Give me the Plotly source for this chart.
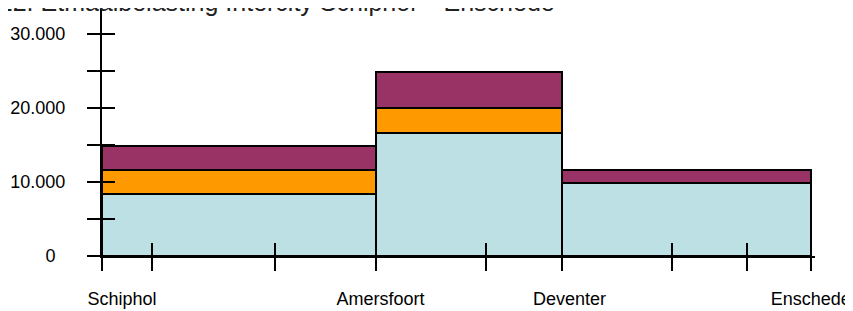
import plotly.graph_objects as go

# ---- data ----
seg_start_km = [0, 65.6, 110.3]
seg_end_km = [65.6, 110.3, 170]
base_load = [8400, 16650, 9900]
orange_load = [3250, 3300, None]
purple_load = [3250, 4950, 1700]

station_km = [0, 11.9, 41.6, 65.6, 92.2, 110.3, 136.8, 154.7, 170]
station_labels = ["Schiphol", "", "", "Amersfoort", "", "Deventer", "", "", "Enschede"]
intermediate_km = [11.9, 41.6, 92.2, 136.8, 154.7]

y_tickvals = [0, 5000, 10000, 15000, 20000, 25000, 30000]
y_ticktext = ["0", "", "10.000", "", "20.000", "", "30.000"]

title_text = "Figuur 22. Etmaalbelasting Intercity Schiphol – Enschede"

# ---- styling ----
FONT = "Liberation Sans, Arial, Helvetica, sans-serif"
NB = "\u00a0"
lead_pad = {"Schiphol": 8, "Amersfoort": 2, "Deventer": 3}
tick_text_x = [(NB * lead_pad.get(s, 0) + s) if s else "" for s in station_labels]
y_text = [t + (NB * 2 if t == "0" else "") for t in y_ticktext]

mid = [(a + b) / 2 for a, b in zip(seg_start_km, seg_end_km)]
wid = [b - a for a, b in zip(seg_start_km, seg_end_km)]

line = dict(color="black", width=2)
fig = go.Figure()
for vals, col in [(base_load, "#BCE0E3"), (orange_load, "#FF9900"), (purple_load, "#993366")]:
    fig.add_trace(go.Bar(x=mid, y=vals, width=wid, marker=dict(color=col, line=line),
                         showlegend=False, hoverinfo="skip"))
fig.add_trace(go.Scatter(x=[], y=[], xaxis="x2", yaxis="y2", showlegend=False))

# the page body has an 8px margin; figure coordinates are page coordinates minus 8
W, H = 845, 303
L, R, T, B = 94, 38, 1, 55
XR = [0, 171]
YR = [0, 33400]
common = dict(showgrid=False, zeroline=False, automargin=False, tickcolor="black", tickwidth=2,
              ticklen=13, tickmode="array")
fig.update_layout(
    width=W, height=H,
    margin=dict(l=L, r=R, t=T, b=B, autoexpand=False),
    paper_bgcolor="white", plot_bgcolor="white",
    barmode="stack", bargap=0,
    font=dict(family=FONT, size=18, color="black"),
    xaxis=dict(range=XR, showline=True, linecolor="black", linewidth=2,
               ticks="outside", tickvals=station_km, ticktext=tick_text_x,
               ticklabelstandoff=12, ticklabeloverflow="allow", tickfont=dict(size=18), **common),
    yaxis=dict(range=YR, showline=True, linecolor="black", linewidth=2,
               ticks="outside", tickvals=y_tickvals, ticktext=y_text,
               ticklabelstandoff=18, tickfont=dict(size=18), **common),
    xaxis2=dict(range=XR, overlaying="x", anchor="y2", side="bottom", showline=False,
                ticks="inside", tickvals=intermediate_km, showticklabels=False, **common),
    yaxis2=dict(range=YR, overlaying="y", anchor="x2", side="left", showline=False,
                ticks="inside", tickvals=y_tickvals, showticklabels=False, **common),
    annotations=[dict(text=title_text, xref="paper", yref="paper", x=(557 - 102) / 713, y=0.965,
                      xanchor="right", yanchor="bottom", showarrow=False,
                      font=dict(family=FONT, size=25, color="#222"))],
)

fig.write_html("out.html")
